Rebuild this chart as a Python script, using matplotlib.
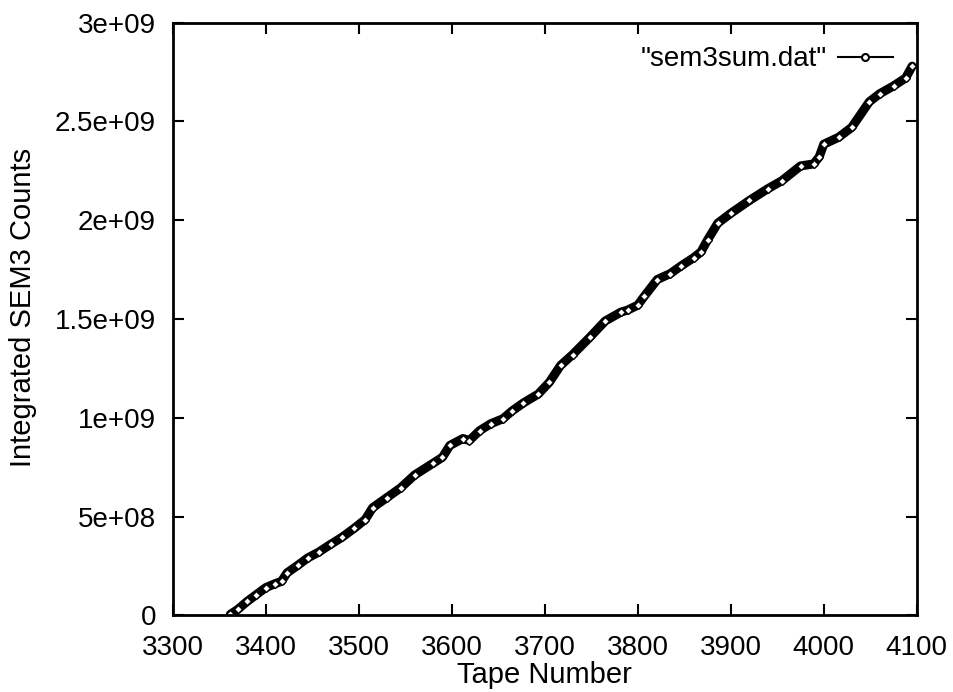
import matplotlib
matplotlib.use("Agg")
import matplotlib.pyplot as plt
from matplotlib.lines import Line2D

plt.rcParams['font.family'] = ['Liberation Sans', 'DejaVu Sans']

# integrated SEM3 counts vs tape number
tape = [3362, 3370, 3380, 3390, 3400, 3410, 3417, 3423, 3435, 3445,
        3457, 3470, 3482, 3495, 3507, 3515, 3530, 3545, 3560, 3580,
        3590, 3598, 3612, 3619, 3630, 3642, 3655, 3665, 3677, 3693,
        3705, 3717, 3730, 3749, 3765, 3782, 3789, 3800, 3807, 3821,
        3835, 3847, 3860, 3868, 3875, 3886, 3900, 3920, 3940, 3955,
        3975, 3989, 3995, 4000, 4016, 4030, 4049, 4060, 4075, 4088, 4095]
counts_e8 = [0.05, 0.3, 0.7, 1.05, 1.4, 1.6, 1.72, 2.15, 2.55, 2.9,
             3.2, 3.6, 3.95, 4.4, 4.85, 5.45, 5.95, 6.45, 7.1, 7.7,
             8.0, 8.6, 8.95, 8.85, 9.35, 9.7, 9.95, 10.35, 10.75, 11.2,
             11.8, 12.65, 13.2, 14.1, 14.9, 15.35, 15.45, 15.7, 16.15, 17.0,
             17.3, 17.7, 18.1, 18.4, 19.0, 19.85, 20.35, 21.0, 21.6, 22.0,
             22.75, 22.85, 23.2, 23.85, 24.2, 24.7, 26.0, 26.4, 26.8, 27.2, 27.8]
counts = [c * 1e8 for c in counts_e8]

x_ticks = list(range(3300, 4101, 100))
y_ticks = [0, 5e8, 1e9, 1.5e9, 2e9, 2.5e9, 3e9]
y_tick_labels = ['0', '5e+08', '1e+09', '1.5e+09', '2e+09', '2.5e+09', '3e+09']

fig = plt.figure(figsize=(9.54, 6.92), dpi=100)
ax = fig.add_axes([0.181, 0.1108, 0.780, 0.8564])

ax.plot(tape, counts, color='black', linewidth=6.5, solid_capstyle='round',
        solid_joinstyle='round')
ax.plot(tape, counts, linestyle='none', marker='D', markersize=4,
        markerfacecolor='white', markeredgecolor='black', markeredgewidth=1.0)

ax.set_xlim(3300, 4100)
ax.set_ylim(0, 3e9)
ax.set_xticks(x_ticks)
ax.set_yticks(y_ticks)
ax.set_yticklabels(y_tick_labels)
ax.tick_params(direction='in', length=8, width=1.5, top=True, right=True,
               labelsize=20)
ax.tick_params(axis='x', pad=14)
ax.tick_params(axis='y', pad=12)
for s in ax.spines.values():
    s.set_linewidth(2)

ax.set_xlabel('Tape Number', fontsize=21, labelpad=0)
ax.set_ylabel('Integrated SEM3 Counts', fontsize=21)
ax.yaxis.set_label_coords(-0.183, 0.52)

handle = Line2D([], [], color='black', linewidth=1.5, marker='o', markersize=5,
                markerfacecolor='white', markeredgecolor='black', markeredgewidth=1.5)
ax.legend([handle], ['"sem3sum.dat"'], loc='upper right', frameon=False,
          markerfirst=False, fontsize=20, handlelength=2.0, handletextpad=0.4,
          borderaxespad=0.45)

fig.savefig('out.png', dpi=100)
